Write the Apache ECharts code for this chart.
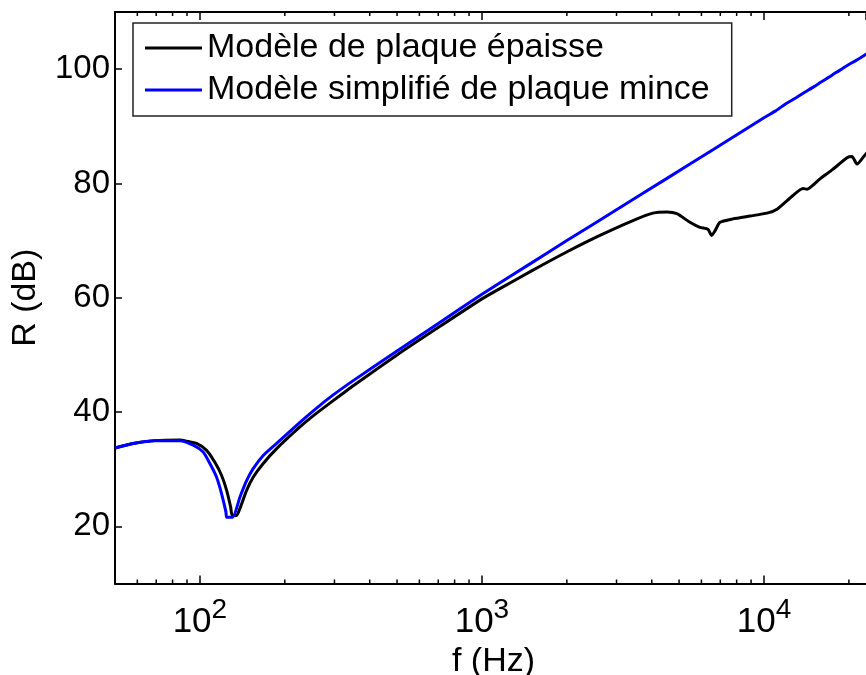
<!DOCTYPE html>
<html>
<head>
<meta charset="utf-8">
<script src="https://cdn.jsdelivr.net/npm/echarts@6/dist/echarts.min.js"></script>
<style>
  html, body { margin: 0; padding: 0; background: #fff; }
  #chart { width: 866px; height: 675px; }
</style>
</head>
<body>
<div id="chart"></div>
<script>
// Transmission loss R (dB) versus frequency f (Hz)
const seriesNames = ['Modèle de plaque épaisse', 'Modèle simplifié de plaque mince'];

// Thick-plate model
const freqThick = [50, 58, 69.2, 84.9, 89.7, 97.3, 105.6, 113.0, 119.4, 124.4, 128.5, 130.2, 134.9, 138.6,
  146.4, 154.5, 167.7, 187.1, 226.3, 259.3, 297, 349.7, 500, 710, 1000, 1158, 1500, 1997, 2620, 3431,
  4040, 4529, 4913, 5465, 5929, 6329, 6525, 6703, 6982, 7765, 8920, 10250, 11120, 12670, 13750, 14210,
  15800, 17570, 19700, 20520, 21370, 23000, 25000];
const rThick = [33.7, 34.5, 35.0, 35.1, 34.9, 34.5, 33.3, 31.2, 28.9, 26.3, 23.4, 21.9, 21.9, 23.1,
  26.3, 28.6, 31.0, 33.6, 37.4, 39.8, 42.0, 44.6, 50.0, 55.0, 59.8, 61.6, 64.7, 68.0, 70.9, 73.5,
  74.8, 75.0, 74.7, 73.2, 72.3, 72.0, 70.9, 71.7, 73.2, 73.8, 74.3, 74.8, 75.5, 77.9, 79.1, 79.0,
  80.8, 82.5, 84.5, 84.7, 83.4, 85.2, 86.5];

// Simplified thin-plate model
const freqThin = [50, 58, 69.2, 84.9, 94.7, 102.7, 108.5, 114.6, 119.4, 123.7, 124.4, 130.6, 138.6,
  146.4, 154.5, 167.7, 187.1, 226.3, 259.3, 297, 349.7, 500, 700, 1000, 1500, 2000, 3000, 4500,
  6592, 10000, 11000, 12000, 13000, 14000, 15000, 16000, 17000, 18000, 19000, 20000, 21000, 22000,
  23000, 25000];
const rThin = [33.7, 34.5, 35.0, 35.0, 34.2, 33.0, 31.0, 28.6, 25.7, 22.5, 21.6, 21.6, 25.1,
  28.0, 30.1, 32.4, 34.5, 38.2, 40.7, 43.0, 45.5, 50.7, 55.5, 60.6, 66.1, 70.0, 75.4, 80.8,
  85.9, 91.5, 92.7, 94.0, 95.0, 96.0, 96.9, 97.8, 98.6, 99.4, 100.1, 100.8, 101.4, 102.0,
  102.6, 103.7];

// Axis ranges and ticks
const xRange = [50, 23000];
const yRange = [10, 110];
const xTickExponents = [2, 3, 4];
const yTickValues = [20, 40, 60, 80, 100];
const xMinorTicks = [60, 70, 80, 90, 200, 300, 400, 500, 600, 700, 800, 900,
  2000, 3000, 4000, 5000, 6000, 7000, 8000, 9000, 20000];

const FONT = '"Liberation Sans", Arial, Helvetica, sans-serif';

const zip = (xs, ys) => xs.map((x, i) => [x, ys[i]]);

function xLabel(v) {
  const e = Math.round(Math.log10(v));
  if (Math.abs(Math.log10(v) - e) > 1e-6 || xTickExponents.indexOf(e) < 0) return '';
  return '{b|10}{s|' + e + '}';
}

const axisLineStyle = { color: '#000', width: 2 };
const tickStyle = { color: '#000', width: 1.5 };

const chart = echarts.init(document.getElementById('chart'), null, { renderer: 'canvas' });
chart.setOption({
  animation: false,
  backgroundColor: '#fff',
  grid: { left: 115, top: 12, width: 751, height: 571.5, containLabel: false, outerBoundsMode: 'none' },
  legend: {
    data: seriesNames,
    orient: 'vertical',
    left: 133,
    top: 23,
    padding: [4, 22, 5, 12],
    icon: 'rect',
    itemWidth: 57,
    itemHeight: 3,
    itemGap: 0,
    backgroundColor: '#fff',
    borderColor: '#222',
    borderWidth: 1.5,
    borderRadius: 0,
    textStyle: { fontFamily: FONT, fontSize: 34, lineHeight: 42, color: '#000' }
  },
  xAxis: [
    {
      type: 'log', logBase: 10, min: xRange[0], max: xRange[1],
      name: 'f (Hz)', nameLocation: 'middle', nameGap: 59,
      nameTextStyle: { fontFamily: FONT, fontSize: 34, lineHeight: 34, color: '#000', padding: [0, 0, 0, 6] },
      axisLine: { show: true, onZero: false, lineStyle: axisLineStyle },
      axisTick: { show: true, inside: true, length: 8, lineStyle: tickStyle },
      splitLine: { show: false },
      minorTick: { show: false },
      axisLabel: {
        margin: -3.5,
        formatter: xLabel,
        showMinLabel: false, showMaxLabel: false,
        rich: {
          b: { fontFamily: FONT, fontSize: 35, lineHeight: 35, verticalAlign: 'bottom', color: '#000' },
          s: { fontFamily: FONT, fontSize: 28, lineHeight: 60, color: '#000' }
        }
      }
    },
    {
      type: 'log', logBase: 10, min: xRange[0], max: xRange[1], position: 'top',
      axisLine: { show: true, onZero: false, lineStyle: axisLineStyle },
      axisTick: { show: true, inside: true, length: 8, lineStyle: tickStyle },
      axisLabel: { show: false },
      splitLine: { show: false }
    }
  ],
  yAxis: [
    {
      type: 'value', min: yRange[0], max: yRange[1], splitNumber: 5,
      name: 'R (dB)', nameLocation: 'middle', nameGap: 72,
      nameTextStyle: { fontFamily: FONT, fontSize: 34, lineHeight: 34, color: '#000' },
      axisLine: { show: true, onZero: false, lineStyle: axisLineStyle },
      axisTick: { show: true, inside: true, length: 7, lineStyle: tickStyle },
      splitLine: { show: false },
      axisLabel: {
        margin: 5,
        fontFamily: FONT, fontSize: 33, color: '#000',
        formatter: v => (yTickValues.indexOf(Math.round(v)) >= 0 && Math.abs(v - Math.round(v)) < 1e-6) ? String(Math.round(v)) : ''
      }
    }
  ],
  series: [
    {
      name: seriesNames[0], type: 'line', xAxisIndex: 0, yAxisIndex: 0,
      data: zip(freqThick, rThick),
      symbol: 'none', smooth: 0.2, clip: true,
      lineStyle: { color: '#000', width: 3 }, itemStyle: { color: '#000' },
      z: 3
    },
    {
      name: seriesNames[1], type: 'line', xAxisIndex: 0, yAxisIndex: 0,
      data: zip(freqThin, rThin),
      symbol: 'none', smooth: 0.2, clip: true,
      lineStyle: { color: '#0000ff', width: 3 }, itemStyle: { color: '#0000ff' },
      z: 4
    },
    {
      // minor log ticks on the bottom and top edges of the frame
      type: 'custom', coordinateSystem: 'cartesian2d', xAxisIndex: 0, yAxisIndex: 0,
      silent: true, clip: false, z: 10,
      encode: { x: 0, y: 1 },
      data: xMinorTicks.map(f => [f, yRange[0]]),
      renderItem: (params, api) => {
        const f = api.value(0);
        const pb = api.coord([f, yRange[0]]);
        const pt = api.coord([f, yRange[1]]);
        const st = { stroke: '#000', lineWidth: 1.5 };
        return {
          type: 'group',
          children: [
            { type: 'line', shape: { x1: pb[0], y1: pb[1], x2: pb[0], y2: pb[1] - 4 }, style: st },
            { type: 'line', shape: { x1: pt[0], y1: pt[1], x2: pt[0], y2: pt[1] + 4 }, style: st }
          ]
        };
      }
    }
  ]
});
</script>
</body>
</html>
